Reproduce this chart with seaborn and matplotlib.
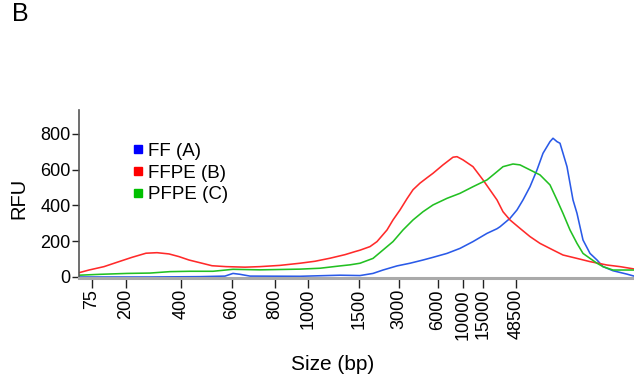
import matplotlib
matplotlib.use("Agg")
import matplotlib.pyplot as plt
from matplotlib.lines import Line2D
import seaborn as sns
import pandas as pd

# x positions are in migration-position units along the trace
tick_pos = [12.7, 47, 101.7, 152.7, 196, 229.3, 279.7, 320, 358.7, 383.7, 403.7, 437]
tick_labels = ["75", "200", "400", "600", "800", "1000", "1500", "3000",
               "6000", "10000", "15000", "48500"]

ff_x = [0, 71, 121, 146, 154, 161, 171, 221, 261, 281, 294, 304, 318, 331, 344, 354,
        368, 381, 394, 408, 418, 421, 431, 438, 444, 451, 458, 464, 471, 474, 478,
        481, 484, 488, 491, 494, 498, 501, 504, 511, 518, 524, 534, 548, 555]
ff_y = [0, 0, 2, 5, 20, 15, 5, 4, 10, 8, 20, 39, 62, 77, 95, 110,
        132, 160, 198, 244, 270, 281, 328, 375, 431, 505, 599, 692, 757, 776, 757,
        748, 692, 617, 524, 431, 356, 281, 207, 132, 95, 58, 35, 16, 5]

ffpe_x = [0, 10, 25, 40, 53, 67, 78, 90, 100, 110, 123, 133, 147, 166, 181, 201,
          221, 236, 251, 266, 276, 281, 291, 298, 308, 314, 321, 328, 334, 341, 348,
          354, 364, 374, 378, 384, 394, 404, 411, 418, 424, 431, 441, 451, 461,
          474, 484, 498, 511, 528, 541, 555]
ffpe_y = [24, 39, 58, 86, 110, 133, 136, 129, 114, 95, 77, 63, 58, 55, 58, 65,
          77, 88, 105, 125, 142, 150, 170, 198, 263, 319, 375, 438, 488, 525, 555,
          580, 627, 670, 673, 655, 617, 543, 487, 431, 365, 319, 272, 226, 188,
          151, 123, 104, 86, 67, 58, 45]

pfpe_x = [0, 21, 48, 71, 91, 111, 134, 154, 181, 221, 241, 261, 271, 281, 294, 304,
          314, 324, 334, 344, 354, 368, 381, 394, 408, 418, 424, 434, 441, 451,
          461, 471, 478, 484, 491, 498, 504, 511, 518, 524, 534, 548, 555]
pfpe_y = [10, 15, 20, 22, 30, 32, 32, 43, 40, 44, 49, 62, 68, 77, 104, 151,
          198, 263, 319, 365, 403, 440, 468, 505, 543, 589, 617, 632, 627, 599,
          571, 515, 431, 356, 263, 188, 132, 104, 77, 58, 39, 39, 39]

series_names = ["FF (A)", "FFPE (B)", "PFPE (C)"]
colors = ["#2a5ae8", "#ff2a2a", "#22c022"]
legend_colors = ["#0000ff", "#ff0000", "#00c000"]

sns.set_style("white")
plt.rcParams["font.family"] = ["Liberation Sans", "DejaVu Sans"]
plt.rcParams["text.color"] = "black"
plt.rcParams["axes.labelcolor"] = "black"
plt.rcParams["xtick.color"] = "black"
plt.rcParams["ytick.color"] = "black"

fig = plt.figure(figsize=(6.34, 3.78), dpi=100)
ax = fig.add_axes([79 / 634, 1 - 278 / 378, 555 / 634, 168 / 378])

for (xs, ys), c in zip([(ff_x, ff_y), (ffpe_x, ffpe_y), (pfpe_x, pfpe_y)], colors):
    df = pd.DataFrame({"pos": xs, "rfu": ys})
    sns.lineplot(data=df, x="pos", y="rfu", color=c, linewidth=1.15, ax=ax,
                 estimator=None, sort=False)

ax.set_xlim(0, 555)
ax.set_ylim(-5.6, 934)
ax.set_yticks([0, 200, 400, 600, 800])
ax.set_xticks(tick_pos)
ax.set_xticklabels(tick_labels, rotation=90, va="top", ha="center")
ax.tick_params(axis="both", direction="out", length=5, width=1, color="#222222",
               labelcolor="black", labelsize=13, pad=1, bottom=True, left=True)
ax.tick_params(axis="x", length=7)

for s in ["top", "right"]:
    ax.spines[s].set_visible(False)
ax.spines["left"].set_color("#555555")
ax.spines["left"].set_linewidth(1.2)
ax.spines["bottom"].set_color("#aaaaaa")
ax.spines["bottom"].set_linewidth(2.2)

ax.set_ylabel("RFU", fontsize=14.5, color="black")
ax.yaxis.set_label_coords(-0.0906, 0.476)
ax.set_xlabel("Size (bp)", fontsize=15, color="black")
ax.xaxis.label.set_va("center")
ax.xaxis.set_label_coords(0.4577, -0.515)

handles = [Line2D([0], [0], marker="s", linestyle="none", markersize=5.5,
                  markerfacecolor=c, markeredgecolor=c) for c in legend_colors]
leg = ax.legend(handles, series_names, loc="upper left", bbox_to_anchor=(0.097, 0.805),
                frameon=False, fontsize=13.5, handlelength=0.6, handletextpad=0.22,
                labelspacing=0.24, borderpad=0, borderaxespad=0)
for t in leg.get_texts():
    t.set_color("black")

fig.text(12 / 634, 1 - 14 / 378, "B", fontsize=18, ha="left", va="center",
         color="black")

fig.savefig("out.png", dpi=100)
